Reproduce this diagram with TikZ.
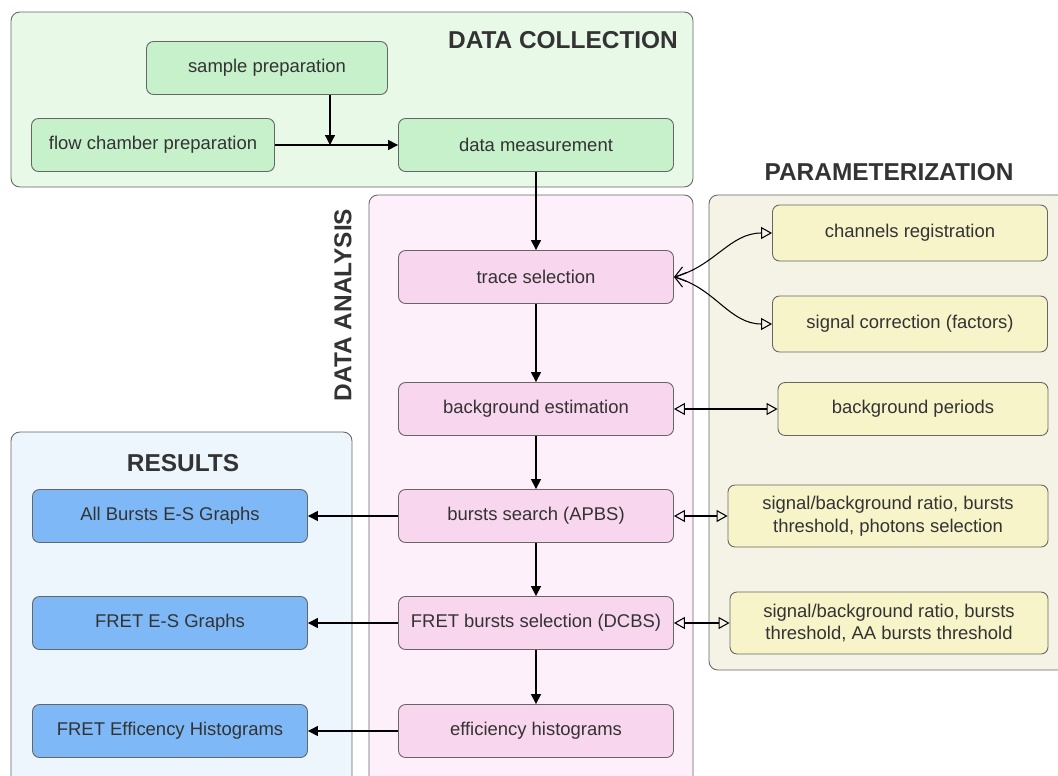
\documentclass[tikz,border=0pt]{standalone}
\usepackage{fontspec}
\setmainfont{Liberation Sans}
\usetikzlibrary{arrows.meta,positioning}
\definecolor{textgray}{HTML}{333333}
\definecolor{boxgray}{HTML}{666666}
\definecolor{collectbg}{HTML}{E8F9E8}
\definecolor{collectfill}{HTML}{C6F1CB}
\definecolor{analysisbg}{HTML}{FDF0FA}
\definecolor{analysisfill}{HTML}{F8D6EE}
\definecolor{paramsbg}{HTML}{F5F3E6}
\definecolor{paramsfill}{HTML}{F7F4CA}
\definecolor{resultsbg}{HTML}{EDF5FD}
\definecolor{resultsfill}{HTML}{7EB8F7}

\begin{document}
\begin{tikzpicture}[>={Triangle[length=2mm,width=2mm]}, line width=0.75pt, node distance=2.64cm, text=textgray]
    \tikzstyle{every node}=[font=\fontsize{10.5}{13}\selectfont]
    \tikzstyle{stage}=[draw=boxgray, line width=0.5pt, rounded corners=4pt, minimum width=5.5cm, minimum height=1.06cm, align=center]
    \tikzstyle{collect}=[stage, fill=collectfill]
    \tikzstyle{analysis}=[stage, fill=analysisfill]
    \tikzstyle{params}=[stage, fill=paramsfill, minimum height=1.12cm]
    \tikzstyle{results}=[stage, fill=resultsfill]
    \tikzstyle{group}=[draw=boxgray, line width=0.5pt, rounded corners=5pt]
    \tikzstyle{title}=[font=\fontsize{13.9}{16}\selectfont\bfseries]
    \tikzstyle{both}=[{Triangle[open,length=2.2mm,width=2.4mm]}-{Triangle[open,length=2.2mm,width=2.4mm]}, line width=0.6pt]
    \tikzstyle{fan}=[{Straight Barb[length=2mm,width=3mm]}-{Triangle[open,length=2.2mm,width=2.4mm]}, line width=0.6pt]

    \clip (0,0) rectangle (21.16,-15.5);
    % groups
    \draw[group, fill=collectbg] (0.22,-0.24) rectangle (13.86,-3.74);
    \draw[group, fill=analysisbg] (7.38,-3.9) rectangle (13.86,-15.8);
    \draw[group, fill=paramsbg] (14.18,-3.9) rectangle (21.4,-13.4);
    \draw[group, fill=resultsbg] (0.22,-8.64) rectangle (7.04,-15.8);

    \node[title] (tcollect) at (11.26,-0.8) {DATA COLLECTION};
    \node[title] (tparams) at (17.78,-3.44) {PARAMETERIZATION};
    \node[title] (tresults) at (3.66,-9.26) {RESULTS};
    \node[title, rotate=90] (tanalysis) at (6.86,-6.1) {DATA ANALYSIS};

    % data collection
    \node[collect, minimum width=4.82cm] (sample) at (5.34,-1.36) {sample preparation};
    \node[collect, minimum width=4.86cm] (flow) at (3.06,-2.9) {flow chamber preparation};
    \node[collect] (meas) at (10.72,-2.9) {data measurement};
    \coordinate (join) at (6.6,-2.9);

    % data analysis
    \node[analysis] (trace) [below of=meas] {trace selection};
    \node[analysis] (bgest) [below of=trace] {background estimation};
    \node[analysis] (aps) [below of=bgest, node distance=2.14cm] {bursts search (APBS)};
    \node[analysis] (dcbs) [below of=aps, node distance=2.14cm] {FRET bursts selection (DCBS)};
    \node[analysis] (hist) [below of=dcbs, node distance=2.16cm] {efficiency histograms};

    % parameterization
    \node[params] (chan) at (18.2,-4.66) {channels registration};
    \node[params] (corr) [below of=chan, node distance=1.82cm] {signal correction (factors)};
    \node[params, minimum width=5.4cm, minimum height=1.06cm] (bgper) [right of=bgest, node distance=7.54cm] {background periods};
    \node[params, minimum width=6.4cm, minimum height=1.24cm] (apspar) [right of=aps, node distance=7.04cm] {signal/background ratio, bursts\\threshold, photons selection};
    \node[params, minimum width=6.36cm, minimum height=1.24cm] (dcbspar) [right of=dcbs, node distance=7.06cm] {signal/background ratio, bursts\\threshold, AA bursts threshold};

    % results
    \node[results] (allgr) [left of=aps, node distance=7.32cm] {All Bursts E-S Graphs};
    \node[results] (fretgr) [left of=dcbs, node distance=7.32cm] {FRET E-S Graphs};
    \node[results] (effgr) [left of=hist, node distance=7.32cm] {FRET Efficency Histograms};

    \draw[->] (sample.south -| join) -- (join);
    \draw[->] (flow) -- (meas);
    \draw[->] (meas) -- (trace);
    \draw[->] (trace) -- (bgest);
    \draw[->] (bgest) -- (aps);
    \draw[->] (aps) -- (dcbs);
    \draw[->] (dcbs) -- (hist);
    \draw[->] (aps) -- (allgr);
    \draw[->] (dcbs) -- (fretgr);
    \draw[->] (hist) -- (effgr);

    \draw[fan] (trace.east) to[out=15, in=180] (chan.west);
    \draw[fan] (trace.east) to[out=-15, in=180] (corr.west);
    \draw[both] (bgest) -- (bgper);
    \draw[both] (aps) -- (apspar);
    \draw[both] (dcbs) -- (dcbspar);
\end{tikzpicture}
\end{document}
